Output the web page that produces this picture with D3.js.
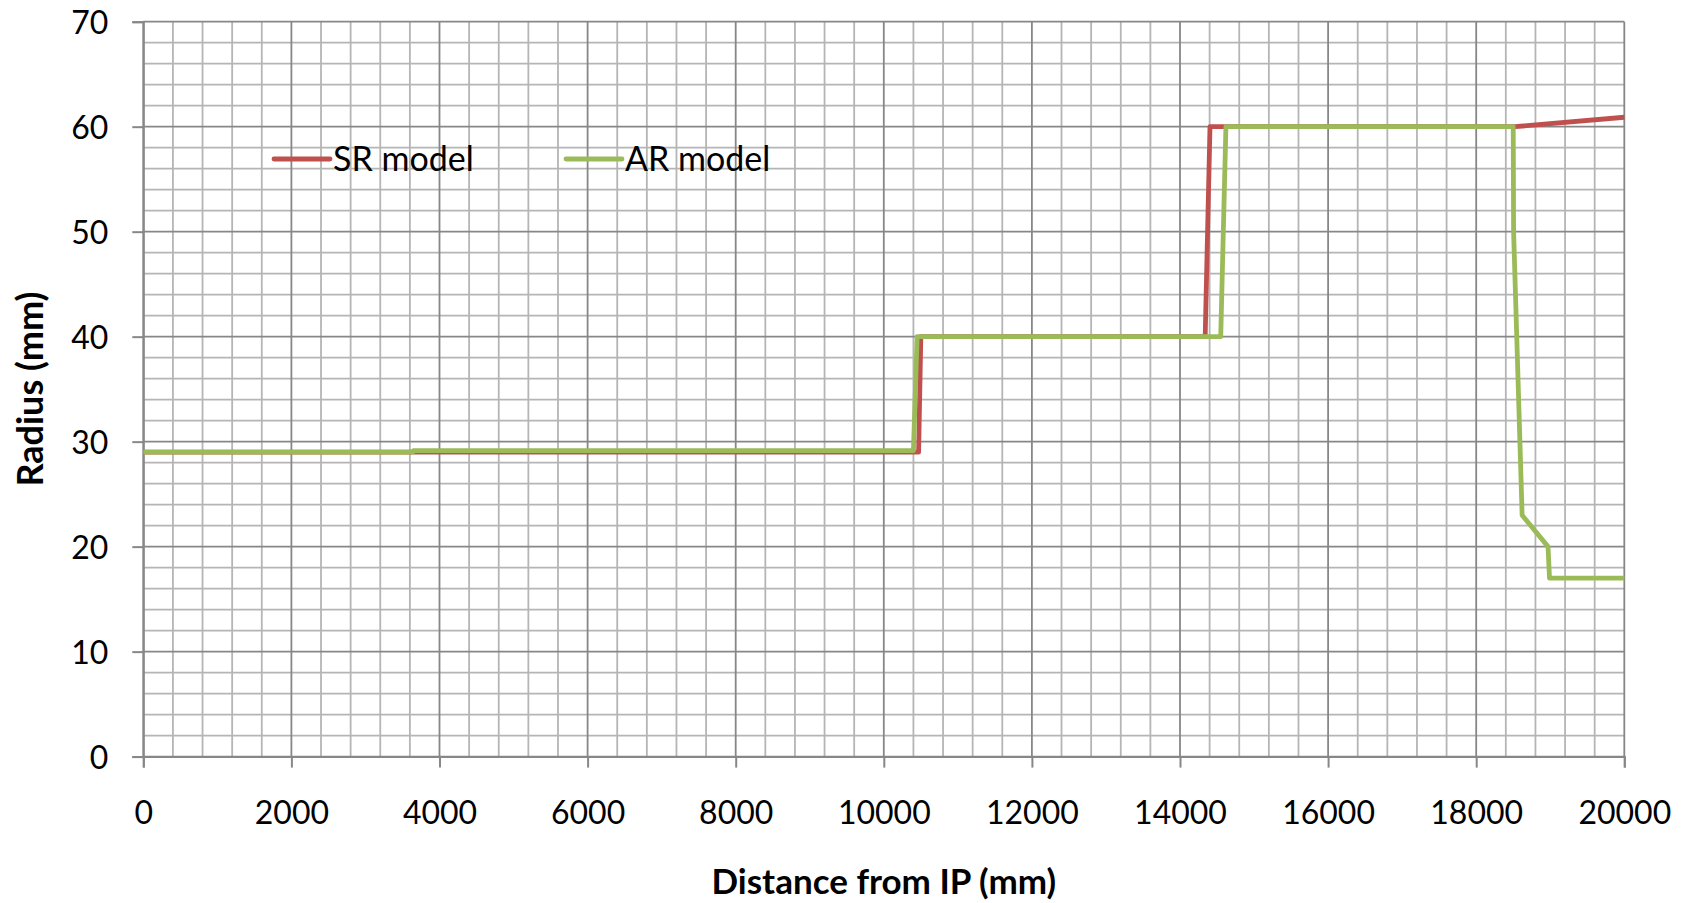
<!DOCTYPE html>
<html>
<head>
<meta charset="utf-8">
<script src="https://cdn.jsdelivr.net/npm/d3@7"></script>
<style>
  html, body { margin: 0; padding: 0; background: #ffffff; }
  svg { display: block; }
  text { font-family: Lato, "Open Sans", "DejaVu Sans", sans-serif; fill: #000; }
</style>
</head>
<body>
<svg id="chart" width="1690" height="903"></svg>
<script>
// ---- data ----
const seriesNames = ["SR model", "AR model"];
const seriesColors = ["#C0504D", "#9BBB59"];

const srX = [0, 10470, 10500, 14340, 14405, 18530, 20000];
const srY = [29, 29, 40, 40, 60, 60, 60.9];

const arX = [0, 3640, 3650, 10400, 10450, 14550, 14620, 18500, 18505, 18620, 18970, 18990, 20000];
const arY = [29, 29, 29.15, 29.15, 40, 40, 60, 60, 50, 23, 20, 17, 17];

const xTickValues = [0, 2000, 4000, 6000, 8000, 10000, 12000, 14000, 16000, 18000, 20000];
const yTickValues = [0, 10, 20, 30, 40, 50, 60, 70];
const xTitle = "Distance from IP (mm)";
const yTitle = "Radius (mm)";

// ---- layout ----
const W = 1690, H = 903;
const m = { left: 143.3, right: W - 1624.3, top: 21.7, bottom: H - 756.6 };
const svg = d3.select("#chart");
const iw = W - m.left - m.right, ih = H - m.top - m.bottom;

const x = d3.scaleLinear().domain([0, 20000]).range([0, iw]);
const y = d3.scaleLinear().domain([0, 70]).range([ih, 0]);

const g = svg.append("g").attr("transform", `translate(${m.left},${m.top})`);

// minor grid
const minorX = d3.range(0, 20001, 400).filter(v => v % 2000 !== 0);
const minorY = d3.range(0, 71, 2).filter(v => v % 10 !== 0);
g.append("g").selectAll("line").data(minorX).join("line")
  .attr("x1", d => x(d)).attr("x2", d => x(d)).attr("y1", 0).attr("y2", ih)
  .attr("stroke", "#b5b5b5").attr("stroke-width", 1.8);
g.append("g").selectAll("line").data(minorY).join("line")
  .attr("y1", d => y(d)).attr("y2", d => y(d)).attr("x1", 0).attr("x2", iw)
  .attr("stroke", "#b5b5b5").attr("stroke-width", 1.8);
// major grid
g.append("g").selectAll("line").data(xTickValues).join("line")
  .attr("x1", d => x(d)).attr("x2", d => x(d)).attr("y1", 0).attr("y2", ih)
  .attr("stroke", "#878787").attr("stroke-width", 1.8);
g.append("g").selectAll("line").data(yTickValues).join("line")
  .attr("y1", d => y(d)).attr("y2", d => y(d)).attr("x1", 0).attr("x2", iw)
  .attr("stroke", "#878787").attr("stroke-width", 1.8);

// axes
const xAxis = d3.axisBottom(x).tickValues(xTickValues).tickFormat(d3.format("d"))
  .tickSize(11).tickPadding(34);
const yAxis = d3.axisLeft(y).tickValues(yTickValues).tickFormat(d3.format("d"))
  .tickSize(11).tickPadding(24);

const gx = g.append("g").attr("transform", `translate(0,${ih})`).call(xAxis);
const gy = g.append("g").call(yAxis);
[gx, gy].forEach(a => {
  a.select(".domain").attr("stroke", "#878787").attr("stroke-width", 2);
  a.selectAll(".tick line").attr("stroke", "#878787").attr("stroke-width", 2);
  a.selectAll(".tick text").attr("font-size", 32).attr("fill", "#000")
    .style("font-family", "Lato, 'Open Sans', sans-serif");
});
gy.selectAll(".tick text").attr("dy", "0.36em");

// series
const line = d3.line().x(d => x(d[0])).y(d => y(d[1]));
const srData = srX.map((v, i) => [v, srY[i]]);
const arData = arX.map((v, i) => [v, arY[i]]);
[srData, arData].forEach((d, i) => {
  g.append("path").datum(d).attr("d", line)
    .attr("fill", "none").attr("stroke", seriesColors[i])
    .attr("stroke-width", 4.8).attr("stroke-linejoin", "round").attr("stroke-linecap", "butt");
});

// legend
const legendPos = [{ x: 274, y: 159 }, { x: 566, y: 159 }];
seriesNames.forEach((name, i) => {
  const lg = svg.append("g").attr("transform", `translate(${legendPos[i].x},${legendPos[i].y})`);
  lg.append("line").attr("x1", 0).attr("x2", 56).attr("y1", 0).attr("y2", 0)
    .attr("stroke", seriesColors[i]).attr("stroke-width", 4.8).attr("stroke-linecap", "round");
  lg.append("text").attr("x", 59).attr("y", 0).attr("dy", "0.36em")
    .attr("font-size", 34).text(name);
});

// axis titles
svg.append("text").attr("x", m.left + iw / 2).attr("y", 894)
  .attr("text-anchor", "middle").attr("font-size", 35).attr("font-weight", "bold").text(xTitle);
svg.append("text").attr("transform", `translate(30,${m.top + ih / 2}) rotate(-90)`)
  .attr("text-anchor", "middle").attr("dy", "0.36em")
  .attr("font-size", 36).attr("font-weight", "bold").text(yTitle);
</script>
</body>
</html>
